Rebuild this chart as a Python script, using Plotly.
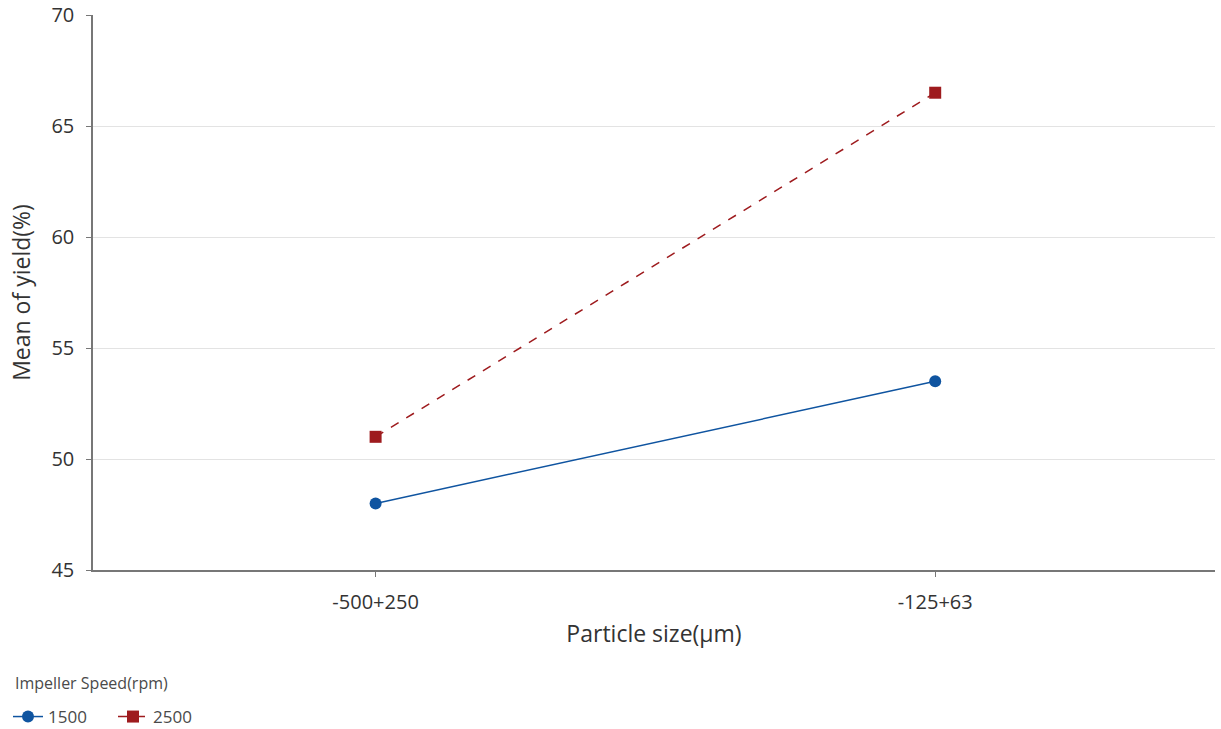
import plotly.graph_objects as go

categories = ["-500+250", "-125+63"]
yield_1500 = [48.0, 53.5]
yield_2500 = [51.0, 66.5]
series_names = ["1500", "2500"]
y_ticks = [45, 50, 55, 60, 65, 70]

FONT = "Open Sans, Noto Sans, sans-serif"
BLUE = "#0f54a0"
RED = "#9e1b1e"
W, H = 1221, 729
L, R, T, B = 93, 6, 15, 159
PW, PH = W - L - R, H - T - B

fig = go.Figure()
fig.add_trace(go.Scatter(
    x=[0, 1], y=yield_1500, name=series_names[0], mode="lines+markers",
    line=dict(color=BLUE, width=1.5, dash="solid"),
    marker=dict(symbol="circle", size=12, color=BLUE),
))
fig.add_trace(go.Scatter(
    x=[0, 1], y=yield_2500, name=series_names[1], mode="lines+markers",
    line=dict(color=RED, width=1.5, dash="dash"),
    marker=dict(symbol="square", size=12, color=RED),
))

fig.add_annotation(
    text="Impeller Speed(rpm)", xref="paper", yref="paper",
    x=(13 - L) / PW, y=-(683 - (H - B)) / PH,
    xanchor="left", yanchor="middle", showarrow=False,
    font=dict(size=16, color="#4a4a4a", family=FONT),
)

fig.update_layout(
    width=W, height=H,
    margin=dict(l=L, r=R, t=T, b=B, autoexpand=False),
    paper_bgcolor="white", plot_bgcolor="white",
    font=dict(family=FONT, color="#333333"),
    showlegend=True,
    legend=dict(
        orientation="h", xref="container", yref="container",
        x=8 / W, y=1 - 717 / H, xanchor="left", yanchor="middle",
        font=dict(size=17, color="#4a4a4a"),
        itemwidth=30, entrywidth=60, tracegroupgap=0,
    ),
    xaxis=dict(
        range=[-0.505, 1.5], tickvals=[0, 1], ticktext=categories,
        showgrid=False, zeroline=False, automargin=False,
        showline=True, linecolor="#777777", linewidth=1.5,
        ticks="outside", ticklen=5, tickcolor="#777777",
        ticklabelstandoff=8, ticklabeloverflow="allow",
        tickfont=dict(size=20, color="#333333"),
        title=dict(text="Particle size(μm)", font=dict(size=23, color="#333333"), standoff=12),
    ),
    yaxis=dict(
        range=[45, 70.001], tickvals=y_ticks,
        showgrid=True, gridcolor="#e3e3e3", gridwidth=1, zeroline=False, automargin=False,
        showline=True, linecolor="#777777", linewidth=1.5,
        ticks="outside", ticklen=5, tickcolor="#777777",
        ticklabelstandoff=8, ticklabeloverflow="allow",
        tickfont=dict(size=20, color="#333333"),
        title=dict(text="Mean of yield(%)", font=dict(size=23, color="#333333"), standoff=14),
    ),
)

fig.write_html("out.html", config={"displayModeBar": False},
               post_script="document.body.style.margin='0';")
